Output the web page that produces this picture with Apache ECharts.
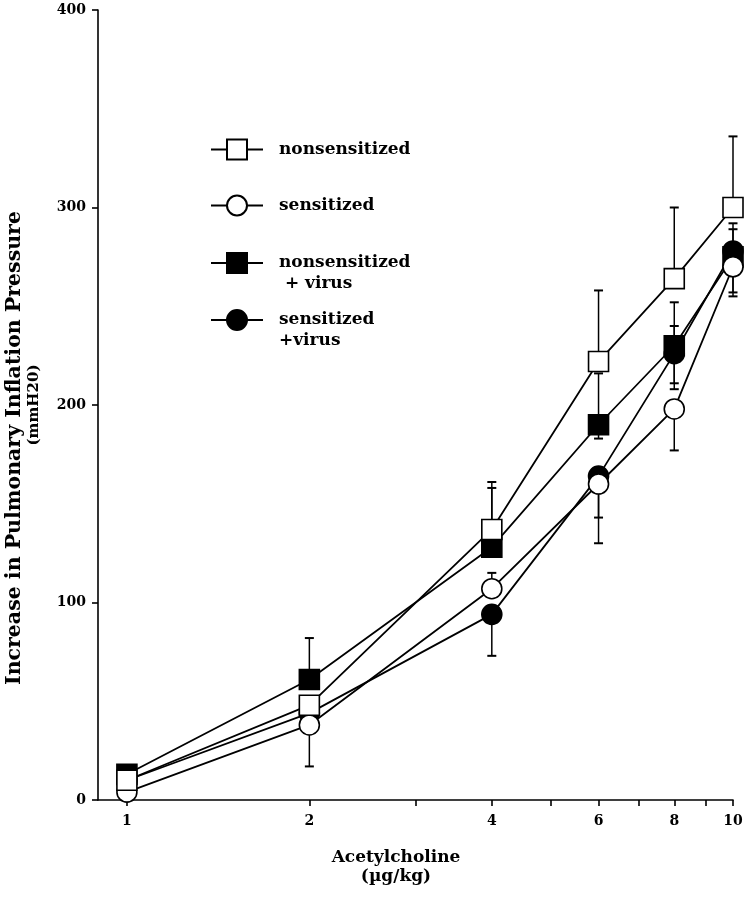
<!DOCTYPE html>
<html><head><meta charset="utf-8">
<script src="https://cdn.jsdelivr.net/npm/echarts@6/dist/echarts.min.js"></script>
<style>html,body{margin:0;padding:0;background:#fff}#c{width:747px;height:899px}</style>
</head><body><div id="c"></div>
<script>
// ---- data ----
const doses = [1, 2, 4, 6, 8, 10];
const xTickValues = [1, 2, 3, 4, 5, 6, 7, 8, 9, 10];
const xLabelValues = [1, 2, 4, 6, 8, 10];
const yTickValues = [0, 100, 200, 300, 400];

const seriesNames = ['nonsensitized', 'sensitized', 'nonsensitized + virus', 'sensitized +virus'];
const legendLabels = ['nonsensitized', 'sensitized', '\nnonsensitized\n + virus', '\nsensitized\n+virus'];

const nonsensitized      = [10, 48, 137, 222, 264, 300];
const sensitized         = [4, 38, 107, 160, 198, 270];
const nonsensitizedVirus = [13, 61, 128, 190, 230, 275];
const sensitizedVirus    = [10, 44, 94, 164, 226, 278];

// error-bar end values (null = no bar drawn)
const nonsensitizedUpper      = [null, null, 161, 258, 300, 336];
const sensitizedUpper         = [null, null, 115, null, null, null];
const sensitizedLower         = [null, 17, null, 130, 177, 255];
const nonsensitizedVirusUpper = [null, 82, 158, 216, 252, 289];
const nonsensitizedVirusLower = [null, null, null, 183, 211, 257];
const sensitizedVirusUpper    = [null, null, null, null, 240, 292];
const sensitizedVirusLower    = [null, null, 73, 143, 208, null];

// ---- build ----
const FONT = 'DejaVu Serif';
function pairs(vals) { return doses.map((d, i) => [d, vals[i]]); }
function bars(means, ends) {
  const out = [];
  doses.forEach((d, i) => { if (ends[i] != null) out.push([d, means[i], ends[i]]); });
  return out;
}
const errData = [].concat(
  bars(nonsensitized, nonsensitizedUpper),
  bars(sensitized, sensitizedUpper),
  bars(sensitized, sensitizedLower),
  bars(nonsensitizedVirus, nonsensitizedVirusUpper),
  bars(nonsensitizedVirus, nonsensitizedVirusLower),
  bars(sensitizedVirus, sensitizedVirusUpper),
  bars(sensitizedVirus, sensitizedVirusLower)
);

function lineSeries(name, vals, symbol, filled, z) {
  return {
    name, type: 'line', data: pairs(vals), z,
    symbol, symbolSize: 20, showAllSymbol: true,
    lineStyle: { color: '#000', width: 1.8 },
    itemStyle: { color: filled ? '#000' : '#fff', borderColor: '#000', borderWidth: 1.6 },
    emphasis: { disabled: true }, animation: false
  };
}

const legendTops = [151, 207, 263, 320];
const legends = seriesNames.map((n, i) => {
  const multi = legendLabels[i].indexOf('\n') >= 0;
  return {
    data: [n], left: 210, top: legendTops[i] - (multi ? 31.5 : 12.5), padding: 0,
    orient: 'vertical', itemWidth: 52, itemHeight: 25, selectedMode: false,
    formatter: () => legendLabels[i],
    textStyle: { fontFamily: FONT, fontWeight: 'bold', fontSize: 17, lineHeight: 21, color: '#000', padding: [0, 0, 0, 11] }
  };
});

const chart = echarts.init(document.getElementById('c'), null, { renderer: 'canvas' });
chart.setOption({
  animation: false,
  backgroundColor: '#fff',
  grid: { left: 98, right: 14, top: 10, bottom: 99, containLabel: false, outerBoundsMode: 'none' },
  legend: legends,
  xAxis: {
    type: 'log', min: 0.896, max: 10, logBase: 10,
    name: '{a|Acetylcholine}\n{a|(µg/kg)}', nameLocation: 'middle', nameGap: 48,
    nameTextStyle: { rich: { a: { fontFamily: FONT, fontWeight: 'bold', fontSize: 17, lineHeight: 19, color: '#000', padding: [0, 39, 0, 0] } } },
    axisLine: { lineStyle: { color: '#000', width: 1.6 } },
    axisTick: { show: true, inside: false, length: 6, lineStyle: { color: '#000', width: 1.6 }, customValues: xTickValues },
    minorTick: { show: false },
    axisLabel: { customValues: xLabelValues, margin: 14, fontFamily: FONT, fontWeight: 'bold', fontSize: 14, color: '#000' },
    splitLine: { show: false }
  },
  yAxis: {
    type: 'value', min: 0, max: 400, interval: 100,
    name: '{a|Increase in Pulmonary Inflation Pressure}\n{b|(mmH20)}', nameLocation: 'middle', nameRotate: 90, nameGap: 55,
    nameTextStyle: { rich: {
      a: { fontFamily: FONT, fontWeight: 'bold', fontSize: 20.5, lineHeight: 22, color: '#000', padding: [0, 86, 0, 0] },
      b: { fontFamily: FONT, fontWeight: 'bold', fontSize: 15, lineHeight: 17, color: '#000' }
    } },
    axisLine: { show: true, lineStyle: { color: '#000', width: 1.6 } },
    axisTick: { show: true, inside: false, length: 6, lineStyle: { color: '#000', width: 1.6 } },
    axisLabel: { margin: 12, fontFamily: FONT, fontWeight: 'bold', fontSize: 14, color: '#000' },
    splitLine: { show: false }
  },
  series: [
    {
      type: 'custom', name: 'err', z: 1, data: errData, encode: { x: 0, y: [1, 2] },
      renderItem(params, api) {
        const x = api.value(0);
        const p1 = api.coord([x, api.value(1)]);
        const p2 = api.coord([x, api.value(2)]);
        const cap = 4.5;
        return { type: 'group', children: [
          { type: 'line', shape: { x1: p1[0], y1: p1[1], x2: p2[0], y2: p2[1] }, style: { stroke: '#000', lineWidth: 1.5 } },
          { type: 'line', shape: { x1: p2[0] - cap, y1: p2[1], x2: p2[0] + cap, y2: p2[1] }, style: { stroke: '#000', lineWidth: 2 } }
        ] };
      }
    },
    lineSeries(seriesNames[3], sensitizedVirus, 'circle', true, 2),
    lineSeries(seriesNames[2], nonsensitizedVirus, 'rect', true, 3),
    lineSeries(seriesNames[1], sensitized, 'circle', false, 4),
    lineSeries(seriesNames[0], nonsensitized, 'rect', false, 5)
  ]
});
</script>
</body></html>
